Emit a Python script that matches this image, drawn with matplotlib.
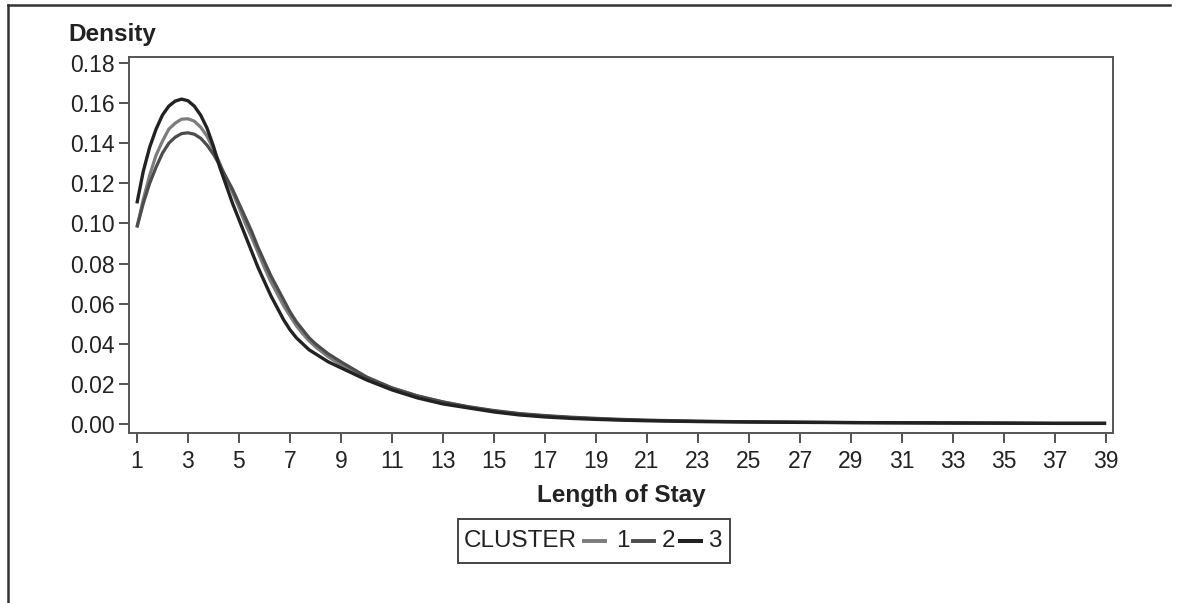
import matplotlib
matplotlib.use("Agg")
import matplotlib.pyplot as plt
from matplotlib.lines import Line2D
from matplotlib.patches import Rectangle

# ---- data ----
stay = [1.0, 1.25, 1.5, 1.75, 2.0, 2.25, 2.5, 2.75, 3.0, 3.25, 3.5, 3.75, 4.0, 4.25,
        4.5, 4.75, 5.0, 5.25, 5.5, 5.75, 6.0, 6.25, 6.5, 6.75, 7.0, 7.25, 7.5, 7.75,
        8.0, 8.5, 9, 10, 11, 12, 13, 14, 15, 16, 17, 18, 19, 20, 21, 23, 25, 27, 29,
        31, 33, 35, 37, 39]
cluster1 = [0.098, 0.112, 0.124, 0.134, 0.141, 0.147, 0.150, 0.152, 0.1522, 0.151,
            0.148, 0.1435, 0.137, 0.130, 0.122, 0.1155, 0.108, 0.100, 0.093, 0.0855,
            0.078, 0.071, 0.065, 0.059, 0.054, 0.049, 0.045, 0.0415, 0.0385, 0.0335,
            0.0295, 0.023, 0.018, 0.014, 0.011, 0.0085, 0.0065, 0.0050, 0.0040, 0.0032,
            0.0026, 0.0021, 0.0018, 0.0013, 0.0010, 0.0008, 0.0007, 0.0006, 0.0005,
            0.0004, 0.0003, 0.0003]
cluster2 = [0.098, 0.110, 0.120, 0.128, 0.135, 0.140, 0.143, 0.1448, 0.1452, 0.1445,
            0.1425, 0.139, 0.1345, 0.129, 0.123, 0.117, 0.110, 0.103, 0.096, 0.088,
            0.081, 0.074, 0.068, 0.062, 0.056, 0.051, 0.047, 0.043, 0.040, 0.035,
            0.031, 0.0235, 0.018, 0.014, 0.011, 0.0086, 0.0067, 0.0052, 0.0042, 0.0034,
            0.0028, 0.0023, 0.0019, 0.0014, 0.0011, 0.0009, 0.0007, 0.0006, 0.0005,
            0.0004, 0.0003, 0.0003]
cluster3 = [0.110, 0.126, 0.138, 0.147, 0.154, 0.1585, 0.161, 0.162, 0.1612, 0.1585,
            0.154, 0.1475, 0.1385, 0.128, 0.119, 0.110, 0.102, 0.094, 0.086, 0.078,
            0.071, 0.064, 0.058, 0.052, 0.047, 0.043, 0.040, 0.037, 0.035, 0.031,
            0.028, 0.022, 0.017, 0.013, 0.010, 0.0080, 0.0060, 0.0045, 0.0035, 0.0028,
            0.0023, 0.0019, 0.0016, 0.0012, 0.0010, 0.0008, 0.0007, 0.0006, 0.0005,
            0.0004, 0.0003, 0.0003]
series = [("1", cluster1), ("2", cluster2), ("3", cluster3)]
xticks = list(range(1, 40, 2))
yticks = [0.00, 0.02, 0.04, 0.06, 0.08, 0.10, 0.12, 0.14, 0.16, 0.18]

# ---- styles ----
colors = {"1": "#7c7c7c", "2": "#4c4c4c", "3": "#222222"}
widths = {"1": 2.3, "2": 2.3, "3": 2.4}
txt = "#222222"
plt.rcParams['font.family'] = ['Liberation Sans', 'DejaVu Sans']

W, H = 1177, 603
fig = plt.figure(figsize=(W / 100, H / 100), dpi=100)
fig.patch.set_facecolor("white")

def fx(px):
    return px / W

def fy(py):
    return 1 - py / H

ax = fig.add_axes([fx(129), fy(433), fx(1113) - fx(129), fy(57) - fy(433)])
for name, vals in series:
    ax.plot(stay, vals, color=colors[name], lw=widths[name],
            solid_capstyle="butt", solid_joinstyle="round")

ax.set_xlim(0.69, 39.27)
ax.set_ylim(-0.0045, 0.183)
ax.set_xticks(xticks)
ax.set_xticklabels([str(t) for t in xticks])
ax.set_yticks(yticks)
ax.set_yticklabels([f"{v:.2f}" for v in yticks])
ax.tick_params(axis="both", direction="out", colors="#444444", width=1.3,
               labelsize=16.5, labelcolor=txt)
ax.tick_params(axis="y", length=7, pad=3)
ax.tick_params(axis="x", length=7, pad=5)
for s in ax.spines.values():
    s.set_color("#555555")
    s.set_linewidth(1.4)

# axis labels
fig.text(fx(68), fy(41), "Density", fontsize=17.5, fontweight="bold", color=txt,
         ha="left", va="baseline")
fig.text(fx(621), fy(502), "Length of Stay", fontsize=17.5, fontweight="bold",
         color=txt, ha="center", va="baseline")

# legend box
fig.patches.append(Rectangle((fx(458), fy(563)), fx(730) - fx(458), fy(519) - fy(563),
                             transform=fig.transFigure, fill=False,
                             edgecolor="#444444", lw=1.4))
ly = 541
fig.text(fx(464), fy(ly), "CLUSTER", fontsize=17.5, color=txt, ha="left", va="center")
segs = [(584, 605, 616), (633, 654, 662), (680, 701, 708)]
for (name, _), (x0, x1, tx) in zip(series, segs):
    fig.add_artist(Line2D([fx(x0), fx(x1)], [fy(ly), fy(ly)], transform=fig.transFigure,
                          color=colors[name], lw=widths[name] + 0.5))
    fig.text(fx(tx), fy(ly), name, fontsize=17.5, color=txt, ha="left", va="center")

# outer frame lines
fig.add_artist(Line2D([fx(8), fx(1170)], [fy(5), fy(5)], transform=fig.transFigure,
                      color="#333333", lw=1.8))
fig.add_artist(Line2D([fx(8), fx(8)], [fy(5), fy(603)], transform=fig.transFigure,
                      color="#333333", lw=1.8))

fig.savefig("out.png", dpi=100, facecolor="white")
